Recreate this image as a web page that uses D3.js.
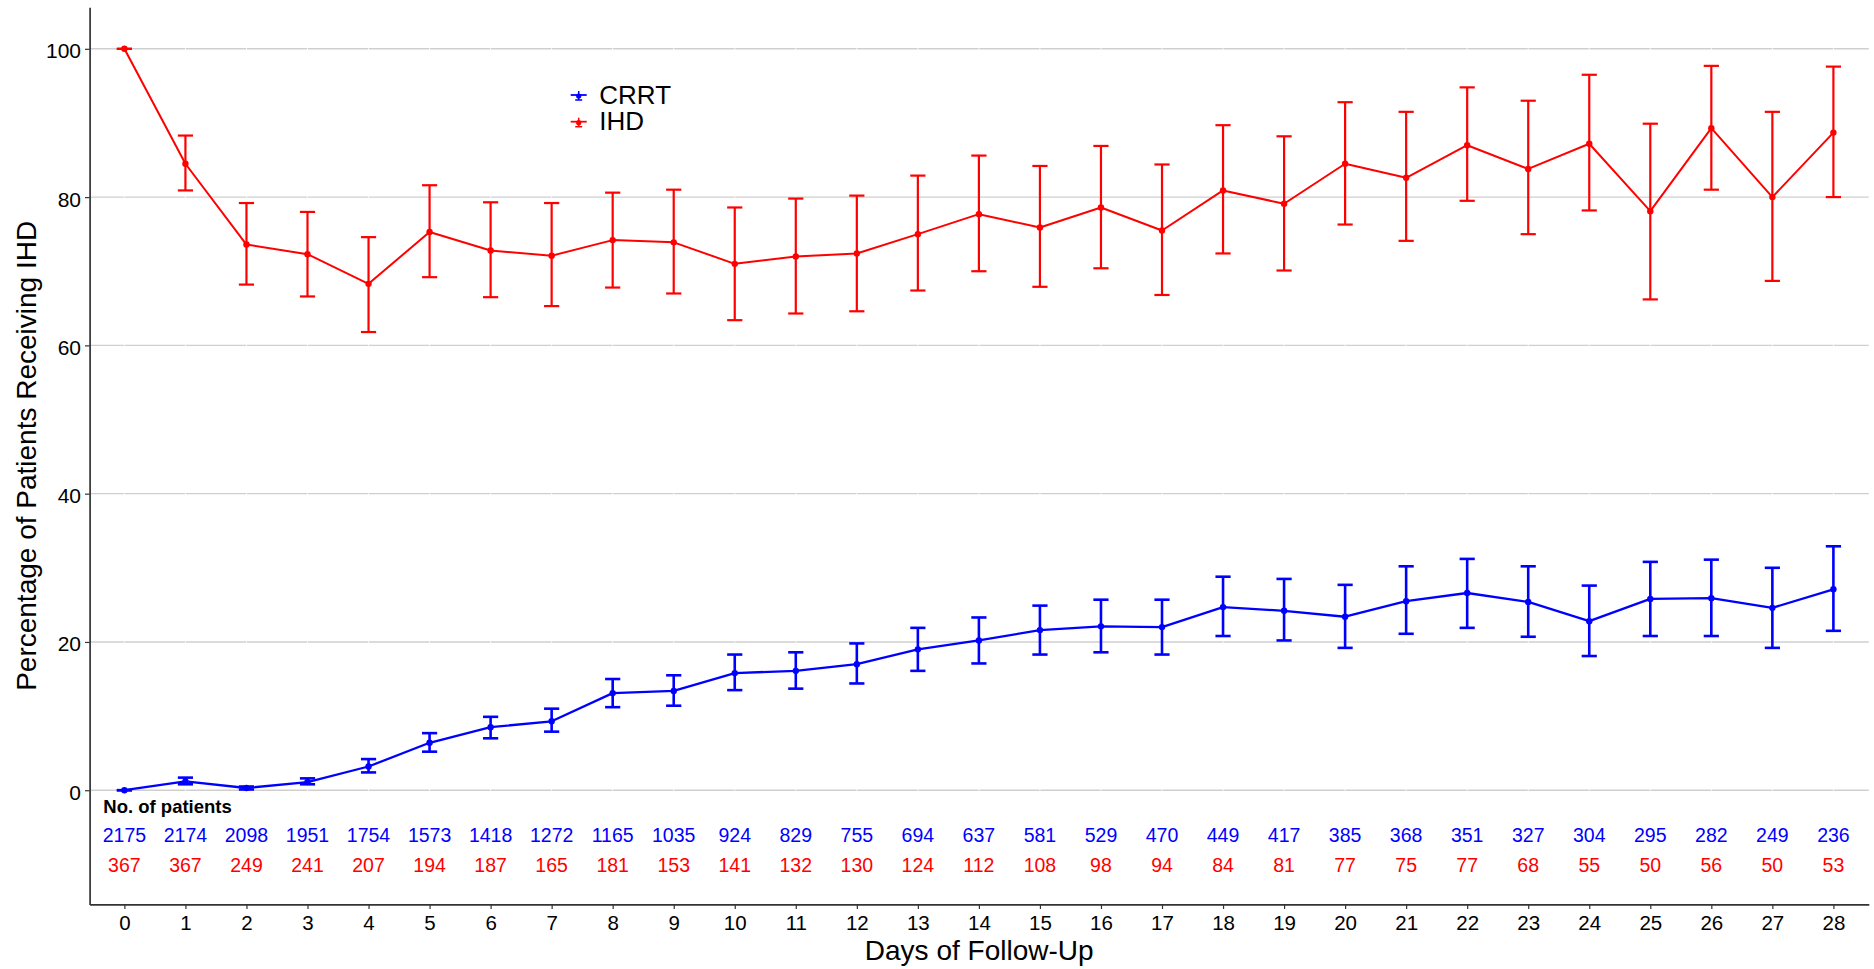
<!DOCTYPE html>
<html>
<head>
<meta charset="utf-8">
<script src="https://cdn.jsdelivr.net/npm/d3@7"></script>
<style>
  body { margin: 0; background: #fff; }
  svg text { font-family: "Liberation Sans", Arial, sans-serif; }
</style>
</head>
<body>
<svg id="svg" width="1874" height="969"></svg>
<script>
// days of follow-up
var days = [0, 1, 2, 3, 4, 5, 6, 7, 8, 9, 10, 11, 12, 13, 14, 15, 16, 17, 18, 19, 20, 21, 22, 23, 24, 25, 26, 27, 28];
var yTicks = [0, 20, 40, 60, 80, 100];

// CRRT series (percent, lower, upper)
var crrtPct = [0, 1.2, 0.3, 1.1, 3.2, 6.4, 8.5, 9.3, 13.1, 13.4, 15.8, 16.1, 17.0, 19.0, 20.2, 21.6, 22.1, 22.0, 24.7, 24.2, 23.4, 25.5, 26.6, 25.4, 22.8, 25.8, 25.9, 24.6, 27.1];
var crrtLo = [0, 0.8, 0.1, 0.8, 2.4, 5.2, 7.0, 7.9, 11.2, 11.4, 13.5, 13.7, 14.4, 16.1, 17.1, 18.3, 18.6, 18.3, 20.8, 20.2, 19.2, 21.1, 21.9, 20.7, 18.1, 20.8, 20.8, 19.2, 21.5];
var crrtHi = [0, 1.7, 0.5, 1.6, 4.2, 7.7, 9.9, 11.0, 15.0, 15.5, 18.3, 18.6, 19.8, 21.9, 23.3, 24.9, 25.7, 25.7, 28.8, 28.5, 27.7, 30.2, 31.2, 30.2, 27.6, 30.8, 31.1, 30.0, 32.9];

// IHD series (percent, lower, upper)
var ihdPct = [100, 84.5, 73.6, 72.3, 68.3, 75.3, 72.8, 72.1, 74.2, 73.9, 71.0, 72.0, 72.4, 75.0, 77.7, 75.9, 78.6, 75.5, 80.9, 79.1, 84.5, 82.6, 87.0, 83.8, 87.2, 78.1, 89.3, 80.0, 88.7];
var ihdLo = [100, 80.9, 68.2, 66.6, 61.8, 69.2, 66.5, 65.3, 67.8, 67.0, 63.4, 64.3, 64.6, 67.4, 70.0, 67.9, 70.4, 66.8, 72.4, 70.1, 76.3, 74.1, 79.5, 75.0, 78.2, 66.2, 81.0, 68.7, 80.0];
var ihdHi = [100, 88.3, 79.2, 78.0, 74.6, 81.6, 79.3, 79.2, 80.6, 81.0, 78.6, 79.8, 80.2, 82.9, 85.6, 84.2, 86.9, 84.4, 89.7, 88.2, 92.8, 91.5, 94.8, 93.0, 96.5, 89.9, 97.7, 91.5, 97.6];

// number at risk
var crrtN = [2175, 2174, 2098, 1951, 1754, 1573, 1418, 1272, 1165, 1035, 924, 829, 755, 694, 637, 581, 529, 470, 449, 417, 385, 368, 351, 327, 304, 295, 282, 249, 236];
var ihdN = [367, 367, 249, 241, 207, 194, 187, 165, 181, 153, 141, 132, 130, 124, 112, 108, 98, 94, 84, 81, 77, 75, 77, 68, 55, 50, 56, 50, 53];

var seriesNames = ["CRRT", "IHD"];
var seriesColors = ["#0000ff", "#ff0000"];

var plotLeft = 89.6, plotRight = 1868.8, plotTop = 7.3, plotBottom = 904.4;
var capHalf = 7.6;
var pointR = 3.2;

draw();

function draw() {
	"use strict"

	var svg = d3.select("#svg");

	var x = d3.scaleLinear().domain([-0.57, 28.58]).range([plotLeft, plotRight]);
	var y = d3.scaleLinear().domain([-15.4, 105.6]).range([plotBottom, plotTop]);

	// grid
	var grid = svg.append("g").attr("id", "grid");
	grid.selectAll(".hgrid").data(yTicks).enter()
		.append("line")
		.attr("class", "hgrid")
		.attr("x1", plotLeft).attr("x2", plotRight)
		.attr("y1", function(d){return y(d);})
		.attr("y2", function(d){return y(d);})
		.attr("stroke", "#cfcfcf")
		.attr("stroke-width", 1.4);
	grid.selectAll(".vgrid").data(days).enter()
		.append("line")
		.attr("class", "vgrid")
		.attr("x1", function(d){return x(d);})
		.attr("x2", function(d){return x(d);})
		.attr("y1", plotTop).attr("y2", plotBottom)
		.attr("stroke", "#ffffff")
		.attr("stroke-width", 0.8);

	// series
	var series = [
		{name: "CRRT", pct: crrtPct, lo: crrtLo, hi: crrtHi, color: seriesColors[0], lw: 2.3, ew: 2.6},
		{name: "IHD", pct: ihdPct, lo: ihdLo, hi: ihdHi, color: seriesColors[1], lw: 2.0, ew: 2.2}
	];

	series.forEach(function(s) {
		var g = svg.append("g").attr("class", "series-" + s.name);
		var line = d3.line()
			.x(function(d){return x(d);})
			.y(function(d, i){return y(s.pct[i]);});
		g.append("path")
			.datum(days)
			.attr("d", line)
			.attr("fill", "none")
			.attr("stroke", s.color)
			.attr("stroke-width", s.lw)
			.attr("stroke-linejoin", "round");

		var bars = g.selectAll(".ebar").data(days).enter()
			.append("g").attr("class", "ebar");
		bars.append("line")
			.attr("x1", function(d){return x(d);})
			.attr("x2", function(d){return x(d);})
			.attr("y1", function(d, i){return y(s.lo[i]);})
			.attr("y2", function(d, i){return y(s.hi[i]);})
			.attr("stroke", s.color).attr("stroke-width", s.ew);
		bars.append("line")
			.attr("x1", function(d){return x(d) - capHalf;})
			.attr("x2", function(d){return x(d) + capHalf;})
			.attr("y1", function(d, i){return y(s.hi[i]);})
			.attr("y2", function(d, i){return y(s.hi[i]);})
			.attr("stroke", s.color).attr("stroke-width", s.ew);
		bars.append("line")
			.attr("x1", function(d){return x(d) - capHalf;})
			.attr("x2", function(d){return x(d) + capHalf;})
			.attr("y1", function(d, i){return y(s.lo[i]);})
			.attr("y2", function(d, i){return y(s.lo[i]);})
			.attr("stroke", s.color).attr("stroke-width", s.ew);

		g.selectAll(".pt").data(days).enter()
			.append("circle")
			.attr("class", "pt")
			.attr("cx", function(d){return x(d);})
			.attr("cy", function(d, i){return y(s.pct[i]);})
			.attr("r", pointR)
			.attr("fill", s.color);
	});

	// number at risk table
	var table = svg.append("g").attr("id", "risktable");
	table.append("text")
		.attr("x", 103.3)
		.attr("y", 813.3)
		.attr("font-size", "18.5px")
		.attr("font-weight", "bold")
		.attr("fill", "#000")
		.text("No. of patients");
	table.selectAll(".ncrrt").data(days).enter()
		.append("text")
		.attr("class", "ncrrt")
		.attr("x", function(d){return x(d);})
		.attr("y", 842.3)
		.attr("text-anchor", "middle")
		.attr("font-size", "19.5px")
		.attr("fill", seriesColors[0])
		.text(function(d, i){return crrtN[i];});
	table.selectAll(".nihd").data(days).enter()
		.append("text")
		.attr("class", "nihd")
		.attr("x", function(d){return x(d);})
		.attr("y", 872.3)
		.attr("text-anchor", "middle")
		.attr("font-size", "19.5px")
		.attr("fill", seriesColors[1])
		.text(function(d, i){return ihdN[i];});

	// axes
	var yAxis = svg.append("g")
		.attr("transform", "translate(" + plotLeft + ",0)")
		.call(d3.axisLeft(y).tickValues(yTicks).tickSize(4.6).tickSizeOuter(0).tickPadding(4));
	var xAxis = svg.append("g")
		.attr("transform", "translate(0," + plotBottom + ")")
		.call(d3.axisBottom(x).tickValues(days).tickSize(4.6).tickSizeOuter(0));

	[yAxis, xAxis].forEach(function(ax) {
		ax.select(".domain").attr("stroke", "#333").attr("stroke-width", 1.7);
		ax.selectAll(".tick line").attr("stroke", "#333").attr("stroke-width", 1.2);
		ax.selectAll(".tick text")
			.attr("fill", "#000")
			.attr("font-size", "20.5px")
			.attr("font-family", "Liberation Sans, Arial, sans-serif");
	});
	yAxis.selectAll(".tick text").attr("x", -8.6).attr("dy", null).attr("y", 9).attr("font-size", "21px");
	xAxis.selectAll(".tick text").attr("dy", null).attr("y", 25.6);

	// axis titles
	svg.append("text")
		.attr("x", (plotLeft + plotRight) / 2)
		.attr("y", 960)
		.attr("text-anchor", "middle")
		.attr("font-size", "28px")
		.attr("fill", "#000")
		.text("Days of Follow-Up");
	svg.append("text")
		.attr("transform", "translate(36," + (plotTop + plotBottom) / 2 + ") rotate(-90)")
		.attr("text-anchor", "middle")
		.attr("font-size", "28px")
		.attr("fill", "#000")
		.text("Percentage of Patients Receiving IHD");

	// legend
	var legend = svg.append("g").attr("id", "legend");
	var items = legend.selectAll(".item").data(seriesNames).enter()
		.append("g")
		.attr("class", "item")
		.attr("transform", function(d, i){return "translate(578.7," + (95 + i * 26.7) + ")";});
	items.append("line")
		.attr("x1", -8).attr("x2", 8).attr("y1", 0).attr("y2", 0)
		.attr("stroke", function(d, i){return seriesColors[i];})
		.attr("stroke-width", 1.8);
	items.append("line")
		.attr("x1", 0).attr("x2", 0).attr("y1", -4).attr("y2", 5)
		.attr("stroke", function(d, i){return seriesColors[i];})
		.attr("stroke-width", 1.5);
	items.append("line")
		.attr("x1", -3.5).attr("x2", 3.5).attr("y1", 5).attr("y2", 5)
		.attr("stroke", function(d, i){return seriesColors[i];})
		.attr("stroke-width", 1.5);
	items.append("circle")
		.attr("r", 2.6)
		.attr("cx", 0).attr("cy", 1)
		.attr("fill", function(d, i){return seriesColors[i];});
	items.append("text")
		.attr("x", 20.6)
		.attr("y", 8.5)
		.attr("font-size", "26px")
		.attr("fill", "#000")
		.text(function(d){return d;});
}
</script>
</body>
</html>
